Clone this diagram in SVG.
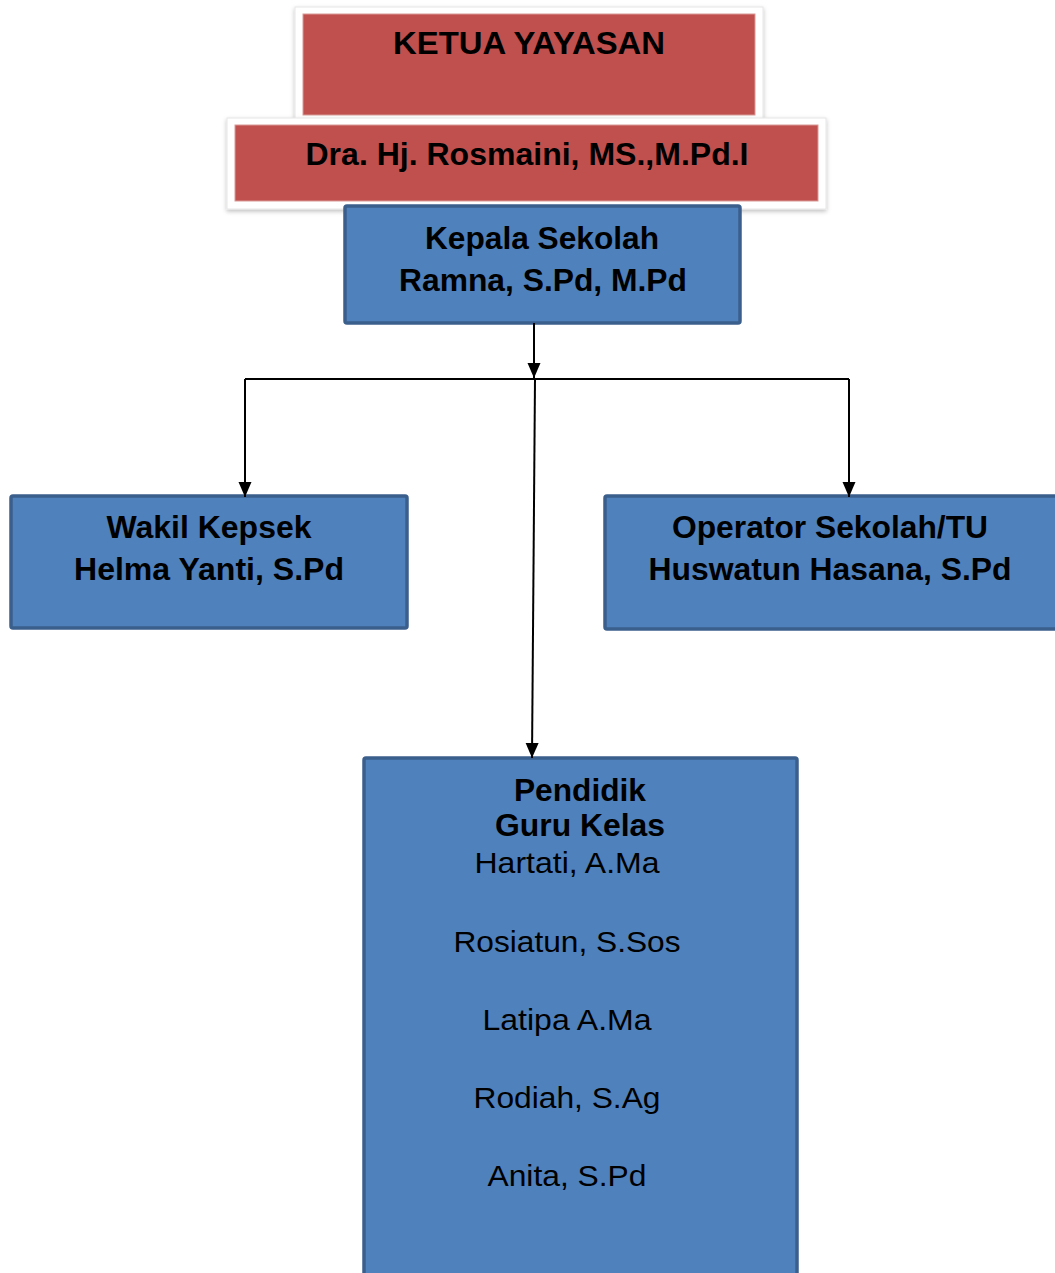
<svg xmlns="http://www.w3.org/2000/svg" width="1055" height="1273" viewBox="0 0 1055 1273">
<style>
.frame{fill:#ffffff;stroke:#e6e6e6;stroke-width:1}
.red{fill:#C0504D;stroke:#d99a98;stroke-width:1}
.blue{fill:#4F81BD;stroke:#3B5F8C;stroke-width:3.5}
.b{font-family:"Liberation Sans",Arial,sans-serif;font-weight:bold;font-size:31px;fill:#000;text-anchor:middle}
.r{font-family:"Liberation Sans",Arial,sans-serif;font-size:29px;fill:#000;text-anchor:middle}
.ln{fill:none;stroke:#000;stroke-width:2}
</style>
<defs>
<filter id="sh" x="-5%" y="-10%" width="110%" height="125%">
<feDropShadow dx="0" dy="2" stdDeviation="2" flood-color="#000" flood-opacity="0.25"/>
</filter>
<marker id="arr" markerWidth="16" markerHeight="16" refX="15" refY="8" orient="auto" markerUnits="userSpaceOnUse" viewBox="0 0 16 16">
<path d="M0,1.5 L15,8 L0,14.5 Z" fill="#000"/>
</marker>
</defs>
<rect width="1055" height="1273" fill="#ffffff"/>

<g id="ketua">
<rect class="frame" x="295" y="7" width="468" height="112" filter="url(#sh)"/>
<rect class="red" x="303" y="14" width="452" height="101"/>
<text class="b" x="529" y="54" textLength="272" lengthAdjust="spacingAndGlyphs">KETUA YAYASAN</text>
</g>

<g id="rosmaini">
<rect class="frame" x="227" y="118" width="599" height="91" filter="url(#sh)"/>
<rect class="red" x="235" y="125" width="583" height="76"/>
<text class="b" x="527" y="165" textLength="443" lengthAdjust="spacingAndGlyphs">Dra. Hj. Rosmaini, MS.,M.Pd.I</text>
</g>

<g id="kepala">
<rect class="blue" x="345" y="206" width="395" height="117" rx="2"/>
<text class="b" x="542" y="249" textLength="234" lengthAdjust="spacingAndGlyphs">Kepala Sekolah</text>
<text class="b" x="543" y="291" textLength="288" lengthAdjust="spacingAndGlyphs">Ramna, S.Pd, M.Pd</text>
</g>

<g id="wakil">
<rect class="blue" x="11" y="496" width="396" height="132" rx="2"/>
<text class="b" x="209" y="538" textLength="205" lengthAdjust="spacingAndGlyphs">Wakil Kepsek</text>
<text class="b" x="209" y="580" textLength="270" lengthAdjust="spacingAndGlyphs">Helma Yanti, S.Pd</text>
</g>

<g id="operator">
<rect class="blue" x="605" y="496" width="455" height="133" rx="2"/>
<text class="b" x="830" y="538" textLength="316" lengthAdjust="spacingAndGlyphs">Operator Sekolah/TU</text>
<text class="b" x="830" y="580" textLength="363" lengthAdjust="spacingAndGlyphs">Huswatun Hasana, S.Pd</text>
</g>

<g id="pendidik">
<rect class="blue" x="364" y="758" width="433" height="530" rx="2"/>
<text class="b" x="580" y="801" textLength="132" lengthAdjust="spacingAndGlyphs">Pendidik</text>
<text class="b" x="580" y="836" textLength="170" lengthAdjust="spacingAndGlyphs">Guru Kelas</text>
<text class="r" x="567" y="873" textLength="185" lengthAdjust="spacingAndGlyphs">Hartati, A.Ma</text>
<text class="r" x="567" y="952" textLength="227" lengthAdjust="spacingAndGlyphs">Rosiatun, S.Sos</text>
<text class="r" x="567" y="1030" textLength="169" lengthAdjust="spacingAndGlyphs">Latipa A.Ma</text>
<text class="r" x="567" y="1108" textLength="187" lengthAdjust="spacingAndGlyphs">Rodiah, S.Ag</text>
<text class="r" x="567" y="1186" textLength="159" lengthAdjust="spacingAndGlyphs">Anita, S.Pd</text>
</g>

<g id="connectors">
<line class="ln" x1="534" y1="323" x2="534" y2="378" marker-end="url(#arr)"/>
<polyline class="ln" points="245,379 849,379"/>
<line class="ln" x1="245" y1="379" x2="245" y2="497" marker-end="url(#arr)"/>
<line class="ln" x1="849" y1="379" x2="849" y2="497" marker-end="url(#arr)"/>
<line class="ln" x1="535" y1="379" x2="532" y2="758" marker-end="url(#arr)"/>
</g>
</svg>
